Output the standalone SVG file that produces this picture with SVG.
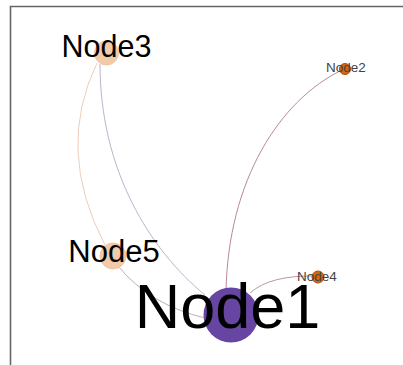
<svg xmlns="http://www.w3.org/2000/svg" width="403" height="365" viewBox="0 0 403 365">
<style>
.edge{fill:none;stroke-width:0.9}
.lbl{font-family:"Liberation Sans",Arial,sans-serif;text-anchor:middle;fill:#000}
.small{fill:#444}
</style>
<rect x="0" y="0" width="403" height="365" fill="#fff"/>
<path d="M10.5,365 V6.5 H403" fill="none" stroke="#666" stroke-width="1.6"/>
<g id="connectors">
<path class="edge" d="M97,63 Q55,150 105,245" stroke="#ecc6b2"/>
<path class="edge" d="M100,64 C100,170 150,250 205,295" stroke="#b9a9c4"/>
<path class="edge" d="M118,266 Q150,305 205,318" stroke="#b3a3bb"/>
<path class="edge" d="M226,292 C228,180 280,100 342,70" stroke="#b07a8e"/>
<path class="edge" d="M250,293 Q270,275 316,276" stroke="#b58a96"/>
</g>
<g id="node1"><circle cx="231" cy="315" r="27.5" fill="#6646a2"/></g>
<g id="node2"><circle cx="345" cy="69" r="5.5" fill="#d9650f" stroke="#b24c05" stroke-width="1"/></g>
<g id="node3"><circle cx="106.5" cy="53" r="12" fill="#f3caa9" stroke="#ebbd9c" stroke-width="0.8"/></g>
<g id="node4"><circle cx="318" cy="277" r="6" fill="#d9650f" stroke="#b24c05" stroke-width="1"/></g>
<g id="node5"><circle cx="113" cy="256" r="13" fill="#f3caa9" stroke="#ebbd9c" stroke-width="0.8"/></g>
<g id="labels">
<text class="lbl" x="227.5" y="328" font-size="63">Node1</text>
<text class="lbl small" x="346" y="72" font-size="13.5">Node2</text>
<text class="lbl" x="106.5" y="57" font-size="30.5">Node3</text>
<text class="lbl small" x="317" y="281" font-size="13.5">Node4</text>
<text class="lbl" x="114" y="262" font-size="31">Node5</text>
</g>
</svg>
